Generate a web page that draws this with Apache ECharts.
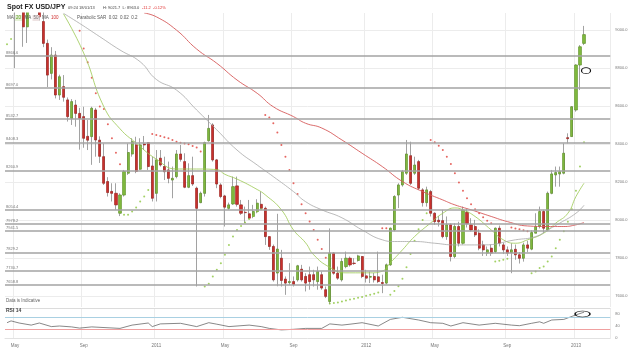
<!DOCTYPE html>
<html>
<head>
<meta charset="utf-8">
<script src="https://cdn.jsdelivr.net/npm/echarts@6/dist/echarts.min.js"></script>
<style>
  html, body { margin: 0; padding: 0; background: #fff; }
  #chart { width: 643px; height: 354px; }
</style>
</head>
<body>
<div id="chart"></div>
<script>
// weekly bars from 19 Apr 2010; the first weeks sit above the visible price range
const firstWeek = Date.UTC(2010, 3, 19)
const weekCount = 150

// [open, close, low, high]
const candles = [
  [9310, 9390, 9250, 9420], [9390, 9430, 9300, 9480], [9430, 9150, 8800, 9499], [9150, 9250, 9120, 9340],
  [9250, 9017, 8912, 9280], [9017, 9120, 8932, 9160], [9120, 9180, 9100, 9290], [9180, 9160, 9100, 9240],
  [9160, 9070, 9050, 9210], [9045, 8930, 8910, 9100], [8930, 8763, 8700, 8950], [8772, 8868, 8740, 8910],
  [8868, 8658, 8640, 8890], [8658, 8754, 8632, 8765], [8702, 8646, 8623, 8763], [8632, 8544, 8518, 8645],
  [8535, 8623, 8500, 8636], [8605, 8561, 8491, 8632], [8561, 8535, 8370, 8590], [8544, 8430, 8380, 8596],
  [8440, 8420, 8368, 8526], [8439, 8588, 8290, 8596], [8579, 8421, 8333, 8590], [8420, 8335, 8300, 8440],
  [8333, 8193, 8184, 8403], [8202, 8144, 8123, 8225], [8150, 8140, 8097, 8193], [8140, 8079, 8053, 8193],
  [8035, 8131, 8020, 8140], [8131, 8255, 8123, 8263], [8246, 8355, 8237, 8403], [8347, 8412, 8333, 8430],
  [8395, 8255, 8246, 8438], [8267, 8395, 8263, 8430], [8400, 8395, 8368, 8442], [8407, 8281, 8263, 8410],
  [8284, 8114, 8097, 8333], [8140, 8316, 8097, 8368], [8325, 8289, 8281, 8368], [8281, 8254, 8210, 8333],
  [8263, 8219, 8193, 8307], [8210, 8219, 8114, 8281], [8228, 8347, 8219, 8368], [8347, 8319, 8307, 8395],
  [8307, 8172, 8167, 8351], [8172, 8233, 8167, 8298], [8233, 8189, 8179, 8333], [8167, 8061, 7649, 8175],
  [8091, 8140, 8088, 8149], [8140, 8407, 8123, 8412], [8417, 8482, 8412, 8553], [8500, 8316, 8307, 8509],
  [8316, 8189, 8167, 8321], [8184, 8123, 8114, 8193], [8126, 8067, 7965, 8132], [8061, 8079, 8053, 8091],
  [8084, 8175, 8079, 8228], [8179, 8082, 8070, 8228], [8079, 8035, 8026, 8105], [8040, 8038, 7983, 8070],
  [8032, 8009, 8004, 8105], [8018, 8044, 8009, 8079], [8044, 8088, 8035, 8109], [8082, 8061, 8056, 8149],
  [8061, 7912, 7868, 8070], [7912, 7860, 7842, 7912], [7860, 7684, 7675, 7870], [7720, 7846, 7650, 8032],
  [7798, 7681, 7649, 7842], [7688, 7667, 7605, 7702], [7670, 7675, 7658, 7772], [7675, 7660, 7649, 7702],
  [7684, 7758, 7675, 7763], [7740, 7684, 7675, 7763], [7702, 7667, 7623, 7719], [7711, 7675, 7632, 7754],
  [7711, 7684, 7649, 7737], [7675, 7728, 7632, 7754], [7711, 7641, 7632, 7728], [7632, 7597, 7588, 7649],
  [7570, 7825, 7556, 7955], [7825, 7719, 7711, 7830], [7719, 7693, 7684, 7754], [7684, 7781, 7675, 7798],
  [7754, 7798, 7745, 7833], [7798, 7763, 7754, 7807], [7772, 7770, 7763, 7798], [7786, 7810, 7780, 7816],
  [7807, 7702, 7693, 7810], [7705, 7693, 7670, 7737], [7698, 7702, 7667, 7728], [7702, 7684, 7670, 7720],
  [7700, 7675, 7667, 7833], [7670, 7665, 7614, 7711], [7667, 7763, 7660, 7770], [7763, 7956, 7758, 7960],
  [7947, 8123, 7940, 8130], [8131, 8184, 8062, 8193], [8184, 8254, 8175, 8263], [8246, 8347, 8237, 8421],
  [8338, 8193, 8184, 8412], [8246, 8289, 8237, 8333], [8307, 8167, 8158, 8316], [8158, 8091, 8070, 8167],
  [8091, 8158, 8070, 8175], [8149, 8035, 8018, 8158], [8035, 7991, 7974, 8040], [7998, 7990, 7965, 8020],
  [7996, 7912, 7903, 8053], [7912, 7974, 7895, 8018], [7974, 7807, 7781, 7982], [7807, 7965, 7798, 7982],
  [7965, 7877, 7860, 7990], [7877, 8052, 7870, 8070], [8040, 7980, 7960, 8060], [7974, 7947, 7939, 8009],
  [7965, 7921, 7910, 8000], [7930, 7851, 7840, 7950], [7868, 7842, 7810, 7890], [7825, 7842, 7810, 7860],
  [7851, 7825, 7810, 7870], [7833, 7956, 7825, 7960], [7956, 7877, 7860, 7970], [7868, 7842, 7820, 7880],
  [7842, 7825, 7810, 7860], [7828, 7842, 7719, 7877], [7845, 7816, 7790, 7870], [7816, 7798, 7770, 7830],
  [7798, 7868, 7780, 7880], [7868, 7851, 7830, 7890], [7846, 7933, 7840, 7945], [7930, 7965, 7930, 8035],
  [7965, 8044, 7955, 8070], [8044, 7956, 7930, 8053], [7947, 8140, 7940, 8149], [8140, 8242, 8135, 8263],
  [8237, 8249, 8175, 8281], [8242, 8254, 8175, 8281], [8246, 8351, 8240, 8403], [8433, 8428, 8403, 8456],
  [8439, 8596, 8437, 8600], [8579, 8816, 8570, 8820], [8816, 8912, 8684, 8921], [8930, 8975.9, 8921, 9022]
]

const levels = [8866.6, 8697.0, 8532.7, 8408.3, 8260.9, 8054.4, 7978.2, 7941.5, 7829.2, 7730.7, 7658.8]
const priceTicks = [7600, 7800, 8000, 8200, 8400, 8600, 8800, 9000]

// [week index, value]
const ma20 = [[14, 9085], [19, 8879], [24, 8596], [28, 8480], [32, 8405], [37, 8320], [42, 8268], [47, 8268],
  [52, 8265], [54, 8240], [57, 8215], [62, 8160], [64, 8132], [68, 8053], [71, 7947], [74, 7879], [76, 7816],
  [80, 7750], [84, 7721], [90, 7721], [93, 7730], [95, 7774], [98, 7842], [101, 7912], [105, 7984], [108, 8035],
  [111, 8063], [113, 8053], [116, 8018], [120, 7947], [123, 7895], [126, 7877], [129, 7895], [133, 7930],
  [136, 7983], [139, 8035], [141, 8123], [143, 8193]]
const ma50 = [[14, 9088], [18, 9035], [23, 8965], [28, 8895], [33, 8833], [37, 8740], [42, 8684], [47, 8579],
  [52, 8474], [57, 8368], [62, 8289], [66, 8228], [71, 8149], [74, 8096], [78, 8053], [83, 8011], [88, 7947],
  [93, 7895], [96, 7886], [101, 7886], [106, 7877], [111, 7868], [118, 7868], [126, 7895], [131, 7912],
  [134, 7947], [137, 7983], [141, 8035], [143, 8077]]
const ma100 = [[34, 9090], [37, 9070], [42, 9000], [47, 8900], [52, 8825], [57, 8737], [62, 8667], [66, 8596],
  [71, 8544], [74, 8509], [78, 8484], [83, 8421], [88, 8351], [93, 8281], [98, 8202], [103, 8149], [108, 8105],
  [111, 8079], [115, 8053], [120, 8018], [124, 7991], [129, 7968], [134, 7965], [138, 7965], [141, 7974], [143, 7986]]

const sarUp = [[0, 8926], [1, 8953],
  [29, 8027], [30, 8027], [31, 8044], [32, 8065], [33, 8097], [34, 8123], [35, 8158],
  [49, 7649], [50, 7663], [51, 7702], [52, 7737], [53, 7772], [54, 7816], [55, 7868], [56, 7912], [57, 7947],
  [58, 7968], [59, 7986], [60, 8004], [61, 8021], [62, 8044], [63, 8056],
  [80, 7560], [81, 7562], [82, 7565], [83, 7570], [84, 7575], [85, 7580], [86, 7584], [87, 7590], [88, 7594],
  [89, 7600], [90, 7605], [91, 7611], [92, 7617],
  [95, 7605], [96, 7625], [97, 7650], [98, 7690], [99, 7750], [100, 7820], [101, 7890], [102, 7950], [103, 8000], [104, 8035],
  [121, 7781], [122, 7785], [123, 7790], [124, 7795],
  [130, 7719], [131, 7728], [132, 7746], [133, 7754], [134, 7781], [135, 7807], [136, 7851], [137, 7895],
  [138, 7940], [139, 7990], [140, 8056], [141, 8154], [142, 8281], [143, 8409]]
const sarDown = [[18, 8996], [19, 8903], [20, 8830], [21, 8749], [22, 8667], [23, 8597], [24, 8584], [25, 8504],
  [26, 8430], [27, 8354], [28, 8293],
  [36, 8453], [37, 8447], [38, 8442], [39, 8435], [40, 8430], [41, 8421], [42, 8412], [43, 8407], [44, 8403],
  [45, 8398], [46, 8389], [47, 8382], [48, 8360],
  [64, 8553], [65, 8540], [66, 8509], [67, 8460], [68, 8395], [69, 8333], [70, 8263], [71, 8193], [72, 8137],
  [73, 8082], [74, 8035], [75, 7991], [76, 7947], [77, 7895], [78, 7846], [79, 7800],
  [93, 7956], [94, 7956],
  [105, 8421], [106, 8409], [107, 8390], [108, 8368], [109, 8333], [110, 8295], [111, 8246], [112, 8197],
  [113, 8153], [114, 8114], [115, 8082], [116, 8056], [117, 8035], [118, 8014], [119, 7996], [120, 7982],
  [125, 7960], [126, 7955], [127, 7950], [128, 7945], [129, 7940]]

const rsi14 = [[0, 51], [1, 57], [3, 50], [6, 43], [8, 50], [11, 38], [13, 40], [16, 37], [18, 33], [21, 37],
  [28, 32], [31, 43], [35, 50], [36, 38], [38, 47], [43, 49], [47, 38], [50, 51], [52, 46], [55, 38], [60, 43],
  [63, 38], [65, 32], [68, 27], [71, 29], [74, 32], [78, 32], [80, 47], [83, 43], [85, 46], [88, 51], [92, 40],
  [95, 62], [98, 69], [102, 60], [105, 51], [108, 49], [110, 40], [113, 51], [117, 43], [121, 49], [125, 43],
  [127, 41], [130, 49], [132, 54], [133, 49], [135, 60], [138, 62], [141, 77], [143, 86]]
const rsiTicks = [0, 40, 80]
const rsiLevels = [70, 30]

const weeks = []
for (let k = 0; k < weekCount; k++) weeks.push(new Date(firstWeek + k * 7 * 864e5))
const weekNames = weeks.map(d => d.toISOString().slice(0, 10))
const markMonths = { 0: null, 4: 'May', 8: 'Sep' }

// the Monday nearest to 1 May / 1 Sep / 1 Jan carries the tick
function monthStart(idx) {
  const d = weeks[idx]
  for (let off = -3; off <= 3; off++) {
    const t = new Date(d.getTime() + off * 864e5)
    if (t.getUTCDate() === 1 && t.getUTCMonth() in markMonths) return t
  }
  return null
}
const isMark = idx => monthStart(idx) !== null
function markLabel(value, idx) {
  const t = monthStart(idx)
  if (!t) return ''
  return t.getUTCMonth() === 0 ? String(t.getUTCFullYear()) : markMonths[t.getUTCMonth()]
}

const bodies = candles.map(([o, c]) => [o, c, Math.min(o, c), Math.max(o, c)])
const lastClose = candles[candles.length - 1][1]
const lastIdx = candles.length - 1

const font = 'Liberation Sans, Arial, sans-serif'
const chart = echarts.init(document.getElementById('chart'))

chart.setOption({
  animation: false,
  textStyle: { fontFamily: font },
  grid: [
    { left: 5, right: 32.75, top: 13, height: 294 },
    { left: 5, right: 32.75, top: 308, height: 30 }
  ],
  xAxis: [0, 1].map(g => ({
    type: 'category',
    gridIndex: g,
    data: weekNames,
    boundaryGap: true,
    axisLine: { show: g === 1, lineStyle: { color: '#e2e2e2' } },
    axisTick: { show: false },
    axisLabel: {
      show: g === 1,
      interval: isMark,
      formatter: markLabel,
      fontSize: 4.5,
      color: '#777',
      margin: 5
    },
    splitLine: { show: true, interval: isMark, lineStyle: { color: '#ececec', width: 1 } }
  })),
  yAxis: [
    {
      type: 'value',
      gridIndex: 0,
      position: 'right',
      min: 7541,
      max: 9090,
      axisLine: { show: false },
      axisTick: { show: false, customValues: priceTicks },
      axisLabel: { customValues: priceTicks, formatter: v => v.toFixed(1), fontSize: 4, color: '#777', margin: 5 },
      splitLine: { lineStyle: { color: '#ececec', width: 1 } }
    },
    {
      type: 'value',
      gridIndex: 1,
      position: 'right',
      min: 0,
      max: 100,
      axisLine: { show: false },
      axisTick: { show: false, customValues: rsiTicks },
      axisLabel: { customValues: rsiTicks, fontSize: 4, color: '#777', margin: 5 },
      splitLine: { show: false }
    }
  ],
  series: [
    {
      name: 'wicks',
      type: 'candlestick',
      data: candles,
      barWidth: 1.5,
      itemStyle: { color: '#8a8a8a', color0: '#8a8a8a', borderColor: '#8a8a8a', borderColor0: '#8a8a8a', borderWidth: 0.8 },
      markLine: {
        silent: true,
        symbol: 'none',
        lineStyle: { color: '#a3a3a3', width: 1.5, type: 'solid' },
        label: { position: 'insideStartTop', formatter: p => p.value.toFixed(1), fontSize: 4, color: '#777', distance: [1, 1] },
        data: levels.map(v => ({ yAxis: v }))
      }
    },
    {
      name: 'bodies',
      type: 'candlestick',
      data: bodies,
      barWidth: 2.6,
      itemStyle: {
        color: '#7fb83d', color0: '#c9302c',
        borderColor: '#5f922a', borderColor0: '#9e2420', borderColorDoji: '#333', borderWidth: 0.6
      },
      markLine: {
        silent: true,
        symbol: 'none',
        lineStyle: { opacity: 0 },
        label: {
          position: 'end', formatter: p => p.value.toFixed(1), fontSize: 4, color: '#222',
          backgroundColor: '#d4d4d4', borderColor: '#aaa', borderWidth: 0.5, padding: [1, 10, 1, 2], distance: 3
        },
        data: [{ yAxis: lastClose }]
      },
      markPoint: {
        silent: true,
        symbol: 'circle',
        symbolSize: [9, 6],
        symbolOffset: [2, 0],
        itemStyle: { color: 'rgba(0,0,0,0)', borderColor: '#111', borderWidth: 1 },
        label: { show: false },
        data: [{ coord: [lastIdx, 8786] }]
      }
    },
    { name: 'MA 20', type: 'line', data: ma20, smooth: true, showSymbol: false, connectNulls: true, lineStyle: { color: '#9bc850', width: 0.8 } },
    { name: 'MA 50', type: 'line', data: ma50, smooth: true, showSymbol: false, connectNulls: true, lineStyle: { color: '#a8a8a8', width: 0.8 } },
    { name: 'MA 100', type: 'line', data: ma100, smooth: true, showSymbol: false, connectNulls: true, lineStyle: { color: '#d65a5a', width: 0.9 } },
    { name: 'SAR up', type: 'scatter', data: sarUp, symbolSize: 2, itemStyle: { color: '#8cc63f' } },
    { name: 'SAR down', type: 'scatter', data: sarDown, symbolSize: 2, itemStyle: { color: '#e0403a' } },
    {
      name: 'RSI 14',
      type: 'line',
      xAxisIndex: 1,
      yAxisIndex: 1,
      data: rsi14,
      showSymbol: false,
      lineStyle: { color: '#555', width: 0.7 },
      markLine: {
        silent: true,
        symbol: 'none',
        label: { show: false },
        data: [
          { yAxis: 100, lineStyle: { color: '#dcdcdc', width: 1, type: 'solid' } },
          { yAxis: rsiLevels[0], lineStyle: { color: '#a9d0e2', width: 1, type: 'solid' } },
          { yAxis: rsiLevels[1], lineStyle: { color: '#f0a0a0', width: 1, type: 'solid' } }
        ]
      },
      markPoint: {
        silent: true,
        symbol: 'circle',
        symbolSize: [15, 6],
        symbolOffset: [-1.5, 0],
        itemStyle: { color: 'rgba(0,0,0,0)', borderColor: '#111', borderWidth: 1 },
        label: { show: false },
        data: [{ coord: [lastIdx, 80] }]
      }
    }
  ],
  graphic: [
    // header strip: candles above the price range must not spill into it
    { type: 'rect', left: 0, top: 0, z: 50, shape: { width: 643, height: 12.5 }, style: { fill: '#fff' } },
    { type: 'text', z: 60, left: 7, top: 3.5, style: { text: 'Spot FX USD/JPY', font: 'bold 7px ' + font, fill: '#222' } },
    { type: 'text', z: 60, left: 68, top: 5.5, style: { text: '09:24 18/01/13', font: '4px ' + font, fill: '#444' } },
    { type: 'text', z: 60, left: 103, top: 5.5, style: { text: 'H: 9021.7  L: 8963.0', font: '4px ' + font, fill: '#444' } },
    { type: 'text', z: 60, left: 142, top: 5.5, style: { text: '-11.2  -0.12%', font: '4px ' + font, fill: '#e03030' } },
    {
      type: 'text', z: 60, left: 7, top: 15,
      style: {
        text: '{m|MA} {g|20}  {m|MA} {s|50}  {m|MA} {r|100}',
        font: '4.5px ' + font,
        rich: {
          m: { fill: '#555', fontSize: 4.5 },
          g: { fill: '#5a9a1e', fontSize: 4.5, backgroundColor: '#e4f0d6', padding: [0.5, 1] },
          s: { fill: '#777', fontSize: 4.5, backgroundColor: '#eee3e3', padding: [0.5, 1] },
          r: { fill: '#d03030', fontSize: 4.5, padding: [0.5, 1] }
        }
      }
    },
    { type: 'text', z: 60, left: 77, top: 15.5, style: { text: 'Parabolic SAR  0.02  0.02  0.2', font: '4.5px ' + font, fill: '#555' } },
    { type: 'text', z: 60, left: 6, top: 298.5, style: { text: 'Data is Indicative', font: '4.5px ' + font, fill: '#666' } },
    { type: 'text', z: 60, left: 6, top: 308.5, style: { text: 'RSI 14', font: 'bold 5px ' + font, fill: '#444' } }
  ]
})
</script>
</body>
</html>
